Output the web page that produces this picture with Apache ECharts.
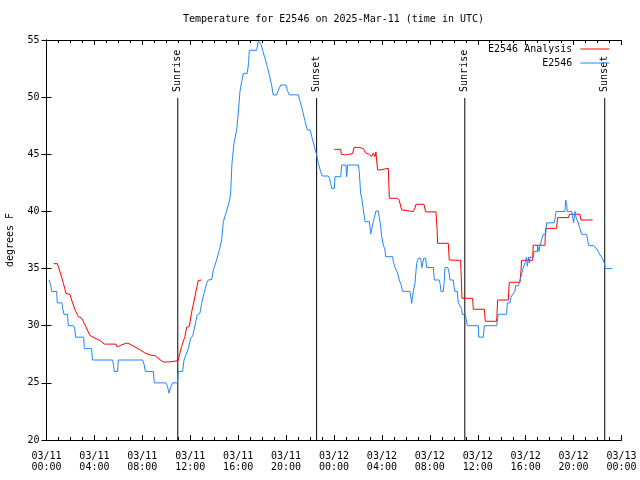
<!DOCTYPE html>
<html>
<head>
<meta charset="utf-8">
<script src="https://cdn.jsdelivr.net/npm/echarts@6/dist/echarts.min.js"></script>
<style>html,body{margin:0;padding:0;background:#fff}#c{width:640px;height:480px}</style>
</head>
<body>
<div id="c"></div>
<script>
// Hours since 03/11 00:00 UTC, and temperature (F)
const obsTimes = [0.21,0.35,0.43,0.85,0.90,1.29,1.35,1.46,1.75,1.82,2.24,2.35,2.43,3.10,3.16,3.77,3.83,5.52,5.60,5.66,5.94,5.99,8.03,8.15,8.25,8.92,9.00,9.97,10.10,10.22,10.36,10.53,10.95,11.00,11.36,11.48,11.84,12.03,12.20,12.35,12.58,12.81,12.95,13.15,13.37,13.51,13.79,13.93,14.20,14.43,14.62,14.76,14.98,15.26,15.37,15.48,15.65,15.87,16.01,16.15,16.29,16.43,16.76,16.87,16.93,17.54,17.68,17.82,17.88,18.04,18.24,18.43,18.60,18.79,18.93,19.21,19.35,19.55,19.99,20.10,20.27,21.02,21.16,21.38,21.58,21.77,22.00,22.14,22.33,22.55,22.69,22.89,23.02,23.53,23.62,23.72,23.81,24.03,24.08,24.56,24.64,25.00,25.06,25.14,26.03,26.11,26.22,26.34,26.45,26.59,26.95,27.00,27.06,27.20,27.28,27.38,27.50,27.70,27.78,27.89,27.98,28.12,28.26,28.31,28.90,28.95,29.09,29.31,29.45,29.60,29.73,30.34,30.43,30.48,30.62,30.76,30.90,31.04,31.23,31.34,31.48,31.65,31.73,32.29,32.37,32.79,32.87,32.93,33.12,33.21,33.26,33.49,33.60,33.68,33.96,34.02,34.10,34.29,34.38,34.52,34.65,34.71,34.96,35.13,36.05,36.08,36.46,36.55,37.58,37.71,38.41,38.47,38.69,38.77,39.10,39.16,39.39,39.52,39.66,39.75,39.86,39.94,40.00,40.08,40.14,40.25,40.31,40.36,40.64,40.69,40.97,41.00,41.11,41.19,41.33,41.47,41.67,41.75,42.39,42.47,42.53,43.28,43.34,43.42,43.47,43.84,43.92,44.00,44.11,44.20,44.39,44.53,44.67,45.09,45.17,45.26,45.70,45.87,46.06,46.20,46.34,46.48,46.56,46.65,47.23];
const obsTemps = [34.0,33.55,33.0,33.0,32.0,32.0,31.5,31.0,31.0,30.0,30.0,29.8,29.0,29.0,28.0,28.0,27.0,27.0,26.5,26.0,26.0,27.0,27.0,26.6,26.0,26.0,25.0,25.0,24.7,24.1,24.6,25.0,25.0,26.0,26.0,27.0,28.0,28.9,29.1,29.8,30.94,31.1,31.96,32.84,33.71,34.0,34.05,34.88,35.75,36.63,37.5,39.1,39.84,40.85,41.58,44.2,45.96,47.1,48.6,50.5,51.35,52.08,52.08,53.0,54.1,54.1,54.85,55.0,54.7,54.1,53.4,52.67,51.94,51.06,50.19,50.19,50.6,51.06,51.06,50.6,50.2,50.2,49.67,48.8,47.9,47.13,47.13,46.55,45.81,44.94,44.21,43.48,43.1,43.1,42.9,42.46,42.02,42.02,43.04,43.04,44.06,44.06,43.04,44.06,44.06,43.5,41.59,41.0,40.13,39.1,39.1,38.7,38.03,38.03,39.1,39.49,40.04,40.04,39.49,38.81,37.79,37.06,36.63,36.04,36.04,35.6,35.11,34.59,34.0,33.6,33.01,33.01,32.4,31.96,33.0,33.71,35.46,35.9,35.9,35.08,35.9,35.9,35.1,35.1,34.0,34.0,33.6,33.0,33.0,34.0,35.1,35.1,34.7,34.0,34.0,33.42,33.0,33.0,32.0,32.0,31.5,31.0,31.0,30.0,30.0,29.0,29.0,30.0,30.0,31.0,31.0,32.0,32.0,32.5,33.0,33.5,33.5,34.0,34.5,34.9,35.0,35.5,35.5,36.0,35.2,36.0,35.5,36.0,36.0,36.5,36.5,37.0,36.5,37.0,37.5,38.0,38.0,39.0,39.0,39.5,40.0,40.0,41.0,40.7,40.0,40.0,39.5,39.0,40.0,39.5,39.0,38.5,38.0,38.0,37.5,37.0,37.0,36.8,36.5,36.2,36.0,35.9,35.5,35.0,35.0];

const anaTimes = [0.60,0.90,1.13,1.41,1.63,1.96,2.10,2.38,2.66,2.94,3.21,3.63,4.05,4.46,4.83,5.80,5.91,6.27,6.69,6.97,7.39,7.80,8.22,8.64,9.06,9.47,9.75,10.25,10.36,11.00,11.09,11.28,11.56,11.70,11.92,12.12,12.40,12.67,12.95,18.0,24.03,24.56,24.61,24.90,25.06,25.56,25.67,26.03,26.17,26.45,26.62,26.90,27.14,27.28,27.42,27.50,27.56,27.64,27.84,27.98,28.53,28.62,29.31,29.45,29.65,30.62,30.76,30.84,31.51,31.65,32.51,32.60,32.65,33.54,33.62,34.57,34.62,34.68,35.57,35.63,36.55,36.63,37.58,37.66,38.55,38.63,39.53,39.61,39.66,40.58,40.63,41.61,41.66,42.58,42.67,43.59,43.64,44.53,44.61,45.59];
const anaTemps = [35.43,35.43,34.71,33.7,32.83,32.74,32.25,31.38,30.8,30.65,30.07,29.14,28.91,28.71,28.39,28.39,28.13,28.33,28.48,28.39,28.13,27.9,27.61,27.43,27.38,27.03,26.83,26.83,26.94,26.94,27.38,28.19,29.06,29.87,29.93,31.2,32.6,33.96,34.0,null,45.43,45.43,45.0,44.95,45.05,45.05,45.61,45.61,45.5,45.5,45.14,45.0,44.8,45.1,44.8,45.2,44.5,43.63,43.63,43.77,43.77,41.15,41.15,40.95,40.13,39.99,40.3,40.62,40.62,39.96,39.96,38.52,37.21,37.21,35.75,35.72,34.29,32.4,32.4,31.44,31.44,30.39,30.39,32.25,32.25,33.8,33.8,34.82,35.72,35.72,37.04,37.04,38.52,38.52,39.46,39.46,39.75,39.75,39.25,39.25];

const sunTimes = [10.96, 22.55, 34.92, 46.6];
const sunLabels = ['Sunrise', 'Sunset', 'Sunrise', 'Sunset'];
const sunLineTop = 49.93;

const FONT = '"DejaVu Sans Mono", "Liberation Mono", monospace';

function fmtX(v) {
  const day = 11 + Math.floor(v / 24);
  const hh = v % 24;
  return '03/' + String(day).padStart(2,'0') + '\n' + String(hh).padStart(2,'0') + ':00';
}

const chart = echarts.init(document.getElementById('c'), null, {renderer: 'canvas'});
const axisLineStyle = {lineStyle: {color: '#000', width: 1}};
const legendBase = {right: 30.7, padding: 0, align: 'right', itemWidth: 29, itemHeight: 1,
  textStyle: {fontFamily: FONT, fontSize: 10, color: '#000', padding: [0,3,0,0]}, selectedMode: false};
const opt = {
  animation: false,
  backgroundColor: '#fff',
  title: {
    text: 'Temperature for E2546 on 2025-Mar-11 (time in UTC)',
    left: 183, top: 14, padding: 0,
    textStyle: {fontFamily: FONT, fontSize: 10, fontWeight: 'normal', color: '#000'}
  },
  legend: [
    Object.assign({}, legendBase, {data: [{name: 'E2546 Analysis', icon: 'rect'}], top: 44}),
    Object.assign({}, legendBase, {data: [{name: 'E2546', icon: 'rect'}], top: 58})
  ],
  grid: {left: 46.5, right: 18.5, top: 40, bottom: 40, containLabel: false, outerBoundsMode: 'none'},
  xAxis: [
    {type: 'value', min: 0, max: 48, interval: 4, position: 'bottom',
     axisLine: axisLineStyle, splitLine: {show: false},
     axisTick: {inside: true, length: 5, lineStyle: {color: '#000'}},
     minorTick: {show: true, splitNumber: 4, length: 3, lineStyle: {color: '#000'}},
     axisLabel: {formatter: fmtX, margin: 11, fontFamily: FONT, fontSize: 10, color: '#000', lineHeight: 11, showMinLabel: true, showMaxLabel: true}},
    {type: 'value', min: 0, max: 48, interval: 4, position: 'top',
     axisLine: axisLineStyle, splitLine: {show: false},
     axisTick: {inside: true, length: 5, lineStyle: {color: '#000'}},
     minorTick: {show: true, splitNumber: 4, length: 3, lineStyle: {color: '#000'}},
     axisLabel: {show: false}}
  ],
  yAxis: [
    {type: 'value', min: 20, max: 55, interval: 5, position: 'left',
     name: 'degrees F', nameLocation: 'middle', nameGap: 31, nameRotate: 90,
     nameTextStyle: {fontFamily: FONT, fontSize: 10, color: '#000'},
     axisLine: axisLineStyle, splitLine: {show: false},
     axisTick: {inside: true, length: 5, lineStyle: {color: '#000'}},
     axisLabel: {margin: 7, fontFamily: FONT, fontSize: 10, color: '#000'}},
    {type: 'value', min: 20, max: 55, interval: 5, position: 'right',
     axisLine: axisLineStyle, splitLine: {show: false},
     axisTick: {inside: true, length: 5, lineStyle: {color: '#000'}},
     axisLabel: {show: false}}
  ],
  series: [
    {type: 'custom', name: 'sun', z: 1, silent: true,
     data: sunTimes.map(t => [t, 20]),
     renderItem: function (params, api) {
       const x = api.value(0);
       const p0 = api.coord([x, 20]);
       const p1 = api.coord([x, sunLineTop]);
       return {type: 'group', children: [
         {type: 'line', shape: {x1: p0[0], y1: p0[1], x2: p1[0], y2: p1[1]}, style: {stroke: '#000', lineWidth: 1}},
         {type: 'text', x: p1[0], y: p1[1] - 6, rotation: Math.PI / 2,
          style: {text: sunLabels[params.dataIndex], font: '10px ' + FONT, fill: '#000', align: 'left', verticalAlign: 'middle'}}
       ]};
     }},
    {type: 'line', name: 'E2546 Analysis', z: 2, symbol: 'none', showSymbol: false, connectNulls: false,
     color: '#ff0000', lineStyle: {color: '#ff0000', width: 1},
     data: anaTimes.map((t, i) => [t, anaTemps[i]])},
    {type: 'line', name: 'E2546', z: 3, symbol: 'none', showSymbol: false,
     color: '#1e88ff', lineStyle: {color: '#1e88ff', width: 1},
     data: obsTimes.map((t, i) => [t, obsTemps[i]])}
  ]
};
chart.setOption(opt);
</script>
</body>
</html>
